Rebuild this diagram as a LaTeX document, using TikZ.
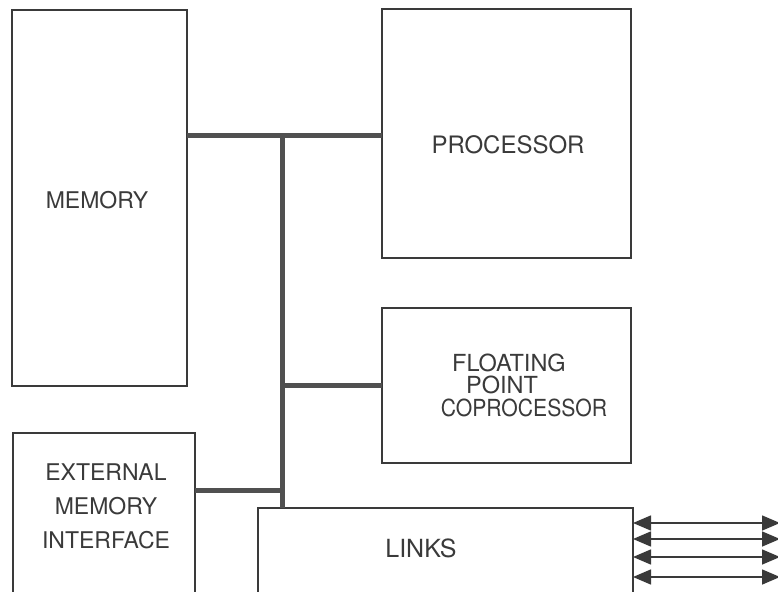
\documentclass[tikz,border=0pt]{standalone}
\usepackage{fontspec}
\setmainfont{TeX Gyre Heros}
\usetikzlibrary{arrows.meta}
\definecolor{ink}{HTML}{3A3A3A}
\definecolor{bus}{HTML}{505050}
\tikzset{
  blk/.style={draw=ink, line width=1.6pt, anchor=north west, inner sep=0pt, outer sep=0pt},
  lbl/.style={text=ink, font=\fontsize{23}{23}\selectfont, align=center, inner sep=0pt},
  busline/.style={draw=bus, line width=5pt},
  link/.style={draw=ink, line width=1.5pt, {Triangle[length=18pt,width=15pt]}-{Triangle[length=18pt,width=15pt]}}
}
\begin{document}
\begin{tikzpicture}[x=1pt,y=-1pt]
\useasboundingbox (0,0) rectangle (778,591);
\clip (0,0) rectangle (778,591);
% blocks
\node[blk, minimum width=175pt, minimum height=376pt] (mem) at (12,10) {};
\node[blk, minimum width=249pt, minimum height=249pt] (proc) at (382,9) {};
\node[blk, minimum width=249pt, minimum height=155pt] (fpu) at (382,308) {};
\node[blk, minimum width=182pt, minimum height=200pt] (emi) at (13,433) {};
\node[blk, minimum width=375pt, minimum height=120pt] (links) at (258,508) {};
% labels
\node[lbl] (tmem) at (97,200) {MEMORY};
\node[lbl, font=\fontsize{24}{24}\selectfont] (tproc) at (508,145) {PROCESSOR};
\node[lbl, font=\fontsize{23.5}{22.5}\selectfont] (tfpu) at (524,385) {\hspace*{-30pt}FLOATING\\\hspace*{-44pt}POINT\\\scalebox{0.9}[1]{COPROCESSOR}};
\node[lbl, font=\fontsize{23}{34}\selectfont] (temi) at (106,506) {EXTERNAL\\MEMORY\\INTERFACE};
\node[lbl, font=\fontsize{25}{25}\selectfont] (tlinks) at (421,548) {LINKS};
% bus
\coordinate (jtop) at (282,135);
\coordinate (jfpu) at (282,385);
\coordinate (jemi) at (282,490);
\draw[busline] (mem.east |- jtop) -- (proc.west |- jtop);
\draw[busline] (jtop) -- (jtop |- links.north);
\draw[busline] (jfpu) -- (fpu.west |- jfpu);
\draw[busline] (emi.east |- jemi) -- (jemi);
% link arrows
\coordinate (r1) at (780,523);
\coordinate (r2) at (780,539);
\coordinate (r3) at (780,557);
\coordinate (r4) at (780,577);
\draw[link] (links.east |- r1) -- (r1);
\draw[link] (links.east |- r2) -- (r2);
\draw[link] (links.east |- r3) -- (r3);
\draw[link] (links.east |- r4) -- (r4);
\end{tikzpicture}
\end{document}
